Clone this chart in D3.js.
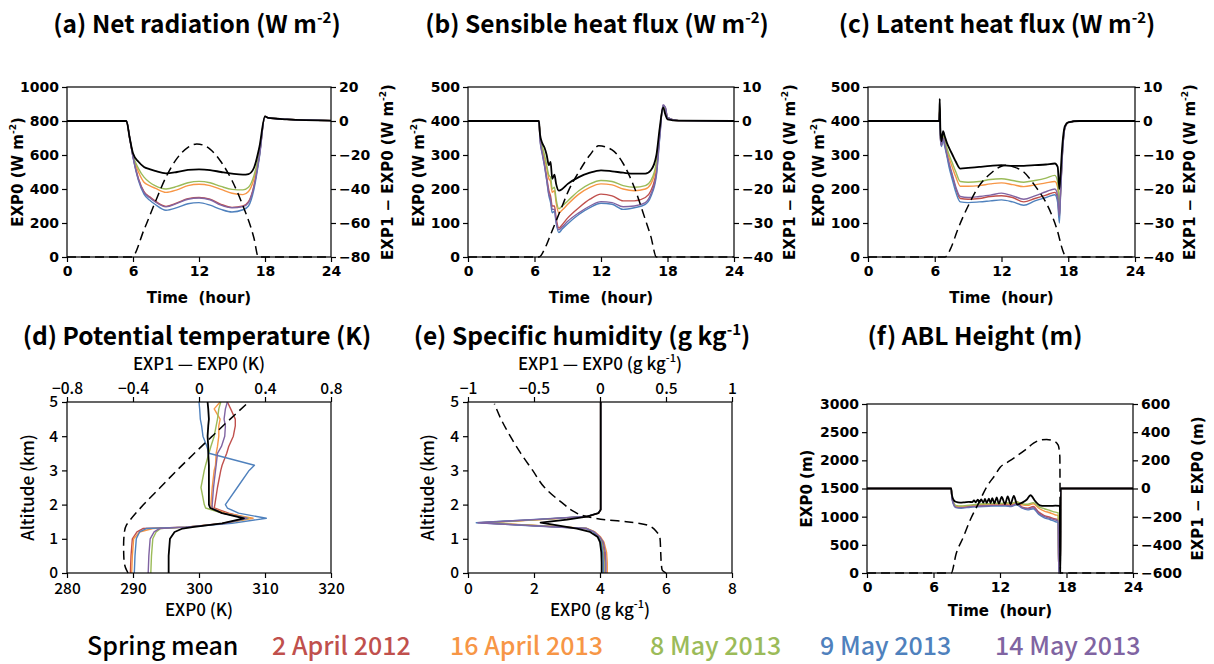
<!DOCTYPE html>
<html>
<head>
<meta charset="utf-8">
<script src="https://cdn.jsdelivr.net/npm/d3@7"></script>
<style>
  body { margin: 0; background: #fff; }
</style>
</head>
<body>
<svg id="chart" width="1214" height="664"></svg>
<script>
// ---------- data ----------
var seriesNames = ['Spring mean', '2 April 2012', '16 April 2013', '8 May 2013', '9 May 2013', '14 May 2013'];
var seriesColors = ['#000000', '#c0504d', '#f79646', '#9bbb59', '#4f81bd', '#8064a2'];

// (a) net radiation
var hoursA = [0, 5.4, 5.7, 6, 6.5, 7, 7.5, 8, 9, 10, 11, 12, 13, 14, 15, 16, 16.5, 17, 17.5, 18, 18.3, 20, 24];
var netSpring  = [800, 800, 700, 610, 560, 530, 517, 507, 492, 500, 512, 515, 511, 500, 490, 484, 488, 525, 650, 827, 818, 810, 802];
var netApr2012 = [800, 800, 700, 590, 460, 385, 355, 330, 298, 318, 343, 350, 340, 310, 292, 300, 325, 420, 600, 827, 818, 810, 802];
var netApr2013 = [800, 800, 700, 595, 500, 440, 420, 405, 380, 395, 420, 428, 420, 398, 375, 367, 385, 460, 610, 827, 818, 810, 802];
var netMay8    = [800, 800, 700, 600, 520, 470, 440, 420, 400, 415, 437, 445, 437, 415, 398, 395, 410, 480, 620, 827, 818, 810, 802];
var netMay9    = [800, 800, 700, 588, 450, 370, 335, 310, 275, 290, 313, 320, 305, 280, 265, 278, 300, 400, 590, 827, 818, 810, 802];
var netMay14   = [800, 800, 700, 590, 455, 380, 350, 325, 295, 315, 340, 347, 337, 305, 290, 297, 320, 415, 600, 827, 818, 810, 802];
var hoursAd = [0, 5.9, 7, 8, 9, 10, 11, 11.8, 12.5, 13, 14, 15, 16, 17, 17.4, 24];
var netDiff = [-80, -80, -64, -48, -33, -22, -15.5, -13.5, -14.5, -16.5, -24, -35, -50, -69, -80, -80];

// (b) sensible heat flux
var hoursB = [0, 6.4, 6.5, 6.7, 6.9, 7.1, 7.3, 7.45, 7.6, 7.8, 7.95, 8.2, 8.5, 9, 10, 11, 12, 13, 14, 15, 16, 16.5, 17, 17.3, 17.6, 17.8, 18, 19, 24];
var shSpring  = [400, 400, 360, 335, 322, 300, 270, 280, 230, 242, 215, 195, 200, 215, 235, 248, 255, 252, 248, 245, 245, 255, 300, 380, 440, 420, 405, 401, 400];
var shApr2012 = [400, 400, 348, 310, 275, 235, 195, 180, 150, 150, 115, 85, 95, 115, 145, 170, 185, 180, 165, 165, 175, 195, 255, 360, 445, 440, 410, 401, 400];
var shApr2013 = [400, 400, 352, 320, 292, 262, 230, 222, 190, 195, 160, 130, 138, 155, 185, 205, 215, 212, 200, 195, 200, 215, 270, 365, 440, 435, 410, 401, 400];
var shMay8    = [400, 400, 355, 325, 300, 270, 240, 235, 200, 205, 170, 142, 150, 165, 195, 215, 225, 222, 210, 205, 210, 225, 280, 370, 440, 435, 410, 401, 400];
var shMay9    = [400, 400, 345, 303, 268, 225, 180, 160, 130, 135, 100, 72, 82, 98, 125, 145, 158, 155, 140, 145, 155, 178, 240, 350, 445, 440, 410, 401, 400];
var shMay14   = [400, 400, 346, 305, 270, 228, 185, 170, 140, 140, 105, 80, 88, 105, 130, 150, 163, 160, 148, 150, 160, 185, 245, 355, 448, 440, 410, 401, 400];
var hoursBd = [0, 6.4, 7, 7.5, 8, 8.5, 9, 10, 11, 11.8, 13, 14, 15, 16, 16.5, 17, 24];
var shDiff = [-40, -40, -37, -33, -29, -25, -21, -15, -10, -7.3, -8.5, -12.5, -19.5, -29, -34, -40, -40];

// (c) latent heat flux
var hoursC = [0, 6.4, 6.45, 6.5, 6.6, 6.75, 6.9, 7.1, 7.3, 7.6, 7.9, 8.3, 9, 10, 11, 12, 13, 14, 15, 16, 16.8, 17.05, 17.2, 17.3, 17.45, 17.7, 18, 19, 24];
var lhSpring  = [400, 400, 465, 380, 340, 370, 355, 335, 320, 300, 280, 260, 262, 265, 268, 270, 268, 268, 270, 272, 275, 265, 200, 240, 320, 385, 396, 400, 400];
var lhApr2012 = [400, 400, 435, 355, 328, 350, 330, 300, 270, 235, 200, 172, 170, 172, 178, 180, 175, 162, 172, 182, 190, 170, 115, 180, 290, 380, 396, 400, 400];
var lhApr2013 = [400, 400, 440, 358, 330, 355, 338, 312, 290, 262, 235, 208, 208, 210, 215, 218, 213, 207, 212, 218, 222, 205, 140, 190, 295, 380, 396, 400, 400];
var lhMay8    = [400, 400, 440, 360, 335, 360, 345, 320, 300, 275, 250, 222, 220, 222, 228, 230, 225, 220, 225, 232, 240, 220, 150, 200, 300, 380, 396, 400, 400];
var lhMay9    = [400, 400, 430, 352, 325, 345, 325, 295, 262, 225, 190, 162, 160, 162, 165, 168, 162, 152, 165, 175, 183, 160, 100, 175, 285, 380, 396, 400, 400];
var lhMay14   = [400, 400, 435, 355, 328, 350, 332, 302, 275, 240, 205, 178, 175, 178, 182, 188, 180, 170, 180, 192, 200, 180, 120, 185, 290, 380, 396, 400, 400];
var hoursCd = [0, 6.9, 7.5, 8, 9, 10, 11, 12, 12.6, 13, 14, 15, 16, 16.5, 17, 17.5, 17.8, 24];
var lhDiff = [-40, -40, -37, -32.5, -25, -19, -15.5, -13.3, -13, -13.4, -15, -19, -24, -27.5, -32, -38, -40, -40];

// (d) potential temperature profiles
var altD = [0, 0.5, 1.0, 1.2, 1.3, 1.34, 1.45, 1.6, 1.75, 1.9, 2.0, 2.5, 3.0, 3.15, 3.5, 3.7, 4.0, 4.3, 4.5, 4.8, 5.0];
var thSpring  = [295.4, 295.4, 295.6, 296.3, 297.5, 299.0, 303.5, 306.8, 303.5, 301.7, 301.5, 301.5, 301.5, 301.5, 301.4, 301.4, 301.3, 301.4, 301.5, 301.4, 301.3];
var thApr2012 = [289.6, 289.7, 289.9, 290.6, 291.5, 298, 303.5, 307.5, 304.5, 302.3, 302.4, 302.8, 303.3, 303.5, 304.2, 304.5, 305.2, 305.5, 305.5, 304.8, 304.3];
var thApr2013 = [289.8, 289.9, 290.1, 291.0, 293.0, 298, 304, 308.2, 304, 302, 301.8, 302, 302.3, 302.5, 302.6, 302.8, 303, 303, 303.2, 302.3, 303.2];
var thMay8    = [292.7, 292.8, 293.0, 293.5, 294.2, 298, 304, 307.5, 303.5, 301, 300.8, 300.3, 300.8, 301.0, 301.5, 301.8, 302.3, 302.6, 302.8, 303.0, 303.3];
var thMay9    = [290.2, 290.3, 290.5, 291.0, 292.0, 298, 305, 310.2, 306, 304.3, 304.0, 305.8, 307.6, 308.4, 301.5, 301.2, 300.6, 300.4, 300.2, 300.1, 300.0];
var thMay14   = [292.3, 292.4, 292.6, 293.2, 294.0, 298, 304, 307.3, 303.5, 302, 302, 302.2, 302.5, 302.6, 302.8, 303.4, 303.9, 304.0, 303.8, 304.0, 304.3];
var altDd = [0, 0.15, 0.4, 0.8, 1.2, 1.4, 1.5, 2.0, 2.5, 3.0, 3.5, 4.0, 4.5, 4.95];
var thDiff = [-0.43, -0.445, -0.455, -0.457, -0.452, -0.44, -0.425, -0.336, -0.235, -0.134, -0.028, 0.08, 0.189, 0.29];

// (e) specific humidity profiles
var altE = [0, 0.3, 0.6, 0.9, 1.05, 1.2, 1.3, 1.38, 1.47, 1.56, 1.65, 1.75, 1.85, 2.0, 3.0, 4.0, 5.0];
var qSpring  = [4.05, 4.05, 4.04, 4.0, 3.93, 3.7, 3.3, 2.8, 2.2, 3.0, 3.6, 3.95, 4.02, 4.02, 4.02, 4.02, 4.02];
var qApr2012 = [4.15, 4.15, 4.13, 4.07, 3.98, 3.82, 3.6, 2.1, 0.4, 2.1, 3.6, 3.95, 4.02, 4.02, 4.02, 4.02, 4.02];
var qApr2013 = [4.22, 4.22, 4.2, 4.12, 4.02, 3.85, 3.62, 2.2, 0.5, 2.2, 3.62, 3.96, 4.02, 4.02, 4.02, 4.02, 4.02];
var qMay8    = [4.12, 4.12, 4.1, 4.05, 3.97, 3.82, 3.6, 2.15, 0.45, 2.15, 3.6, 3.95, 4.02, 4.02, 4.02, 4.02, 4.02];
var qMay9    = [4.1, 4.1, 4.08, 4.03, 3.95, 3.8, 3.58, 1.9, 0.25, 1.9, 3.58, 3.95, 4.02, 4.02, 4.02, 4.02, 4.02];
var qMay14   = [4.18, 4.18, 4.16, 4.1, 4.0, 3.83, 3.6, 2.0, 0.3, 2.0, 3.6, 3.95, 4.02, 4.02, 4.02, 4.02, 4.02];
var altEd = [0, 0.1, 0.25, 0.6, 1.0, 1.2, 1.4, 1.5, 1.55, 1.65, 1.8, 2.0, 2.5, 3.0, 3.5, 4.0, 4.5, 4.95];
var qDiff = [0.5, 0.47, 0.465, 0.46, 0.455, 0.43, 0.36, 0.2, 0.06, -0.1, -0.2, -0.27, -0.42, -0.51, -0.6, -0.68, -0.75, -0.8];

// (f) ABL height
var hoursF = [0, 7.6, 7.65, 7.8, 8, 8.5, 9, 9.5, 10, 10.5, 11, 11.5, 12, 12.5, 13, 13.5, 14, 14.5, 15, 15.5, 16, 16.5, 17, 17.25, 17.3, 17.45, 17.46, 24];
var ablApr2012 = [1500, 1500, 1360, 1240, 1180, 1170, 1180, 1190, 1195, 1200, 1205, 1210, 1210, 1215, 1200, 1270, 1170, 1150, 1180, 1080, 1020, 990, 960, 950, 0, 0, 1500, 1500];
var ablApr2013 = [1500, 1500, 1370, 1250, 1190, 1180, 1190, 1200, 1210, 1215, 1220, 1225, 1225, 1230, 1225, 1245, 1210, 1200, 1230, 1150, 1100, 1070, 1030, 1020, 0, 0, 1500, 1500];
var ablMay8    = [1500, 1500, 1380, 1260, 1200, 1190, 1200, 1210, 1220, 1230, 1230, 1240, 1235, 1245, 1240, 1260, 1230, 1220, 1250, 1180, 1140, 1110, 1080, 1070, 0, 0, 1500, 1500];
var ablMay9    = [1500, 1500, 1350, 1220, 1160, 1150, 1160, 1170, 1175, 1180, 1185, 1190, 1190, 1190, 1180, 1210, 1150, 1120, 1140, 1040, 980, 950, 910, 900, 0, 0, 1500, 1500];
var ablMay14   = [1500, 1500, 1355, 1230, 1170, 1160, 1170, 1180, 1185, 1190, 1195, 1200, 1200, 1200, 1190, 1230, 1160, 1140, 1160, 1060, 1000, 970, 940, 930, 0, 0, 1500, 1500];
var hoursFs = [0, 7.6, 7.65, 7.8, 8.0, 8.4, 8.8, 9.2, 9.5, 9.65, 9.8, 10.0, 10.15, 10.3, 10.5, 10.65, 10.8, 11.0, 11.15, 11.3, 11.5, 11.7, 11.9, 12.15, 12.45, 12.7, 12.95, 13.25, 13.55, 14.0, 14.4, 14.75, 15.2, 15.6, 16.0, 16.5, 17.0, 17.4, 17.42, 17.46, 17.48, 24];
var ablSpring = [1500, 1500, 1400, 1300, 1265, 1250, 1255, 1262, 1258, 1290, 1255, 1300, 1250, 1305, 1250, 1315, 1245, 1320, 1240, 1330, 1235, 1340, 1230, 1350, 1225, 1360, 1220, 1370, 1215, 1250, 1300, 1380, 1270, 1200, 1190, 1190, 1195, 1190, 0, 0, 1500, 1500];
var hoursFd = [0, 7.6, 8.05, 8.7, 9.3, 10.05, 10.8, 11.55, 12, 12.75, 13.5, 14.25, 15, 15.6, 16.2, 16.8, 17.25, 17.4, 17.45, 24];
var ablDiff = [-600, -600, -462, -344, -225, -107, 12, 95, 149, 190, 230, 272, 320, 344, 348, 339, 308, 225, -600, -600];

var hourTicks = [0, 6, 12, 18, 24];
var altTicks = [0, 1, 2, 3, 4, 5];

// ---------- drawing ----------
var NCL = '"DejaVu Sans", sans-serif';
var JP = '"Noto Sans CJK JP", "Noto Sans", sans-serif';
var svg = d3.select('#chart');
var defs = svg.append('defs');

function fmt(v) {
    return (v < 0 ? '\u2212' : '') + Math.abs(v);
}

// text with optional superscript parts: parts = [[str, isSup], ...]
function addText(g, x, y, parts, o) {
    var t = g.append('text')
        .attr('transform', 'translate(' + x + ',' + y + ')' + (o.rotate ? ' rotate(-90)' : ''))
        .attr('text-anchor', o.anchor || 'middle')
        .attr('font-family', o.font)
        .attr('font-size', o.size)
        .attr('font-weight', o.weight || 'normal')
        .attr('fill', o.color || '#000')
        .style('white-space', 'pre');
    if (o.rotate) t.attr('dominant-baseline', 'central');
    parts.forEach(function (p) {
        var ts = t.append('tspan').text(p[0]);
        if (p[1]) ts.attr('baseline-shift', 'super').attr('font-size', Math.round(o.size * 0.62));
    });
    return t;
}

function styleAxis(sel, font, size, weight) {
    sel.select('.domain').remove();
    sel.selectAll('.tick line').attr('stroke', '#000').attr('stroke-width', 1.2);
    sel.selectAll('.tick text')
        .attr('font-family', font).attr('font-size', size)
        .attr('font-weight', weight).attr('fill', '#000');
}

function addClip(id, x0, y0, x1, y1) {
    defs.append('clipPath').attr('id', id).append('rect')
        .attr('x', x0 - 1).attr('y', y0 - 1)
        .attr('width', x1 - x0 + 2).attr('height', y1 - y0 + 2);
}

function timePanel(p) {
    var g = svg.append('g');
    var x = d3.scaleLinear().domain([0, 24]).range([p.x0, p.x1]);
    var y = d3.scaleLinear().domain(p.yDom).range([p.y1, p.y0]);
    var y2 = d3.scaleLinear().domain(p.y2Dom).range([p.y1, p.y0]);
    addClip(p.id, p.x0, p.y0, p.x1, p.y1);
    var plot = g.append('g').attr('clip-path', 'url(#' + p.id + ')');

    // colored series first, spring mean (index 0) on top
    var order = [1, 2, 3, 4, 5, 0];
    order.forEach(function (i) {
        var s = p.series[i];
        plot.append('path')
            .datum(d3.zip(s.t, s.v))
            .attr('d', d3.line().x(function (d) { return x(d[0]); })
                .y(function (d) { return y(d[1]); }).curve(d3.curveMonotoneX))
            .attr('fill', 'none')
            .attr('stroke', seriesColors[i])
            .attr('stroke-width', i === 0 ? 1.8 : 1.4);
    });

    plot.append('path')
        .datum(d3.zip(p.diff.t, p.diff.v))
        .attr('d', d3.line().x(function (d) { return x(d[0]); })
            .y(function (d) { return y2(d[1]); }).curve(d3.curveMonotoneX))
        .attr('fill', 'none').attr('stroke', '#000')
        .attr('stroke-width', 1.5).attr('stroke-dasharray', '9,5');

    g.append('rect')
        .attr('x', p.x0).attr('y', p.y0)
        .attr('width', p.x1 - p.x0).attr('height', p.y1 - p.y0)
        .attr('fill', 'none').attr('stroke', '#000').attr('stroke-width', 1.2);

    g.append('g').attr('transform', 'translate(0,' + p.y1 + ')')
        .call(d3.axisBottom(x).tickValues(hourTicks).tickSize(5).tickPadding(4).tickFormat(fmt))
        .call(styleAxis, NCL, 14, 'bold');
    g.append('g').attr('transform', 'translate(' + p.x0 + ',0)')
        .call(d3.axisLeft(y).tickValues(p.yTicks).tickSize(5).tickPadding(3).tickFormat(fmt))
        .call(styleAxis, NCL, 14, 'bold');
    g.append('g').attr('transform', 'translate(' + p.x1 + ',0)')
        .call(d3.axisRight(y2).tickValues(p.y2Ticks).tickSize(5).tickPadding(3).tickFormat(fmt))
        .call(styleAxis, NCL, 14, 'bold');

    var o = { font: NCL, size: 15, weight: 'bold' };
    addText(g, (p.x0 + p.x1) / 2, p.timeY, [['Time  (hour)']], o);
    var ym = (p.y0 + p.y1) / 2;
    addText(g, p.leftX, ym, p.leftLabel, Object.assign({ rotate: true }, o));
    addText(g, p.rightX, ym, p.rightLabel, Object.assign({ rotate: true }, o));
}

function profilePanel(p) {
    var g = svg.append('g');
    var x = d3.scaleLinear().domain(p.xDom).range([p.x0, p.x1]);
    var x2 = d3.scaleLinear().domain(p.x2Dom).range([p.x0, p.x1]);
    var y = d3.scaleLinear().domain([0, 5]).range([p.y1, p.y0]);
    addClip(p.id, p.x0, p.y0, p.x1, p.y1);
    var plot = g.append('g').attr('clip-path', 'url(#' + p.id + ')');

    var order = [1, 2, 3, 4, 5, 0];
    order.forEach(function (i) {
        var s = p.series[i];
        plot.append('path')
            .datum(d3.zip(p.alt, s))
            .attr('d', d3.line().x(function (d) { return x(d[1]); })
                .y(function (d) { return y(d[0]); }))
            .attr('fill', 'none')
            .attr('stroke', seriesColors[i])
            .attr('stroke-width', i === 0 ? 1.8 : 1.4)
            .attr('stroke-linejoin', 'round');
    });

    plot.append('path')
        .datum(d3.zip(p.diff.alt, p.diff.v))
        .attr('d', d3.line().x(function (d) { return x2(d[1]); })
            .y(function (d) { return y(d[0]); }).curve(d3.curveMonotoneY))
        .attr('fill', 'none').attr('stroke', '#000')
        .attr('stroke-width', 1.5).attr('stroke-dasharray', '9,5');

    g.append('rect')
        .attr('x', p.x0).attr('y', p.y0)
        .attr('width', p.x1 - p.x0).attr('height', p.y1 - p.y0)
        .attr('fill', 'none').attr('stroke', '#000').attr('stroke-width', 1.2);

    g.append('g').attr('transform', 'translate(0,' + p.y1 + ')')
        .call(d3.axisBottom(x).tickValues(p.xTicks).tickSize(5).tickPadding(5).tickFormat(fmt))
        .call(styleAxis, JP, 15.5, 500);
    g.append('g').attr('transform', 'translate(0,' + p.y0 + ')')
        .call(d3.axisTop(x2).tickValues(p.x2Ticks).tickSize(5).tickPadding(3).tickFormat(fmt))
        .call(styleAxis, JP, 15.5, 500);
    g.append('g').attr('transform', 'translate(' + p.x0 + ',0)')
        .call(d3.axisLeft(y).tickValues(altTicks).tickSize(5).tickPadding(4).tickFormat(fmt))
        .call(styleAxis, JP, 15.5, 500);

    var o = { font: JP, size: 17, weight: 500 };
    var xm = (p.x0 + p.x1) / 2;
    addText(g, xm, p.y0 - 32, p.topLabel, o);
    addText(g, xm, p.y1 + 43, p.bottomLabel, o);
    addText(g, p.leftX, (p.y0 + p.y1) / 2, [['Altitude (km)']], Object.assign({ rotate: true }, o));
}

function pack(t, arrs) {
    return arrs.map(function (v) { return { t: t, v: v }; });
}

timePanel({
    id: 'clipA', x0: 67, x1: 331, y0: 87, y1: 257,
    yDom: [0, 1000], y2Dom: [-80, 20],
    yTicks: [0, 200, 400, 600, 800, 1000], y2Ticks: [-80, -60, -40, -20, 0, 20],
    series: pack(hoursA, [netSpring, netApr2012, netApr2013, netMay8, netMay9, netMay14]),
    diff: { t: hoursAd, v: netDiff },
    timeY: 303, leftX: 18, rightX: 388,
    leftLabel: [['EXP0 (W m'], ['-2', true], [')']],
    rightLabel: [['EXP1 \u2212 EXP0 (W m'], ['-2', true], [')']]
});

timePanel({
    id: 'clipB', x0: 468, x1: 734, y0: 87, y1: 257,
    yDom: [0, 500], y2Dom: [-40, 10],
    yTicks: [0, 100, 200, 300, 400, 500], y2Ticks: [-40, -30, -20, -10, 0, 10],
    series: pack(hoursB, [shSpring, shApr2012, shApr2013, shMay8, shMay9, shMay14]),
    diff: { t: hoursBd, v: shDiff },
    timeY: 303, leftX: 419, rightX: 790,
    leftLabel: [['EXP0 (W m'], ['-2', true], [')']],
    rightLabel: [['EXP1 \u2212 EXP0 (W m'], ['-2', true], [')']]
});

timePanel({
    id: 'clipC', x0: 868, x1: 1135, y0: 87, y1: 257,
    yDom: [0, 500], y2Dom: [-40, 10],
    yTicks: [0, 100, 200, 300, 400, 500], y2Ticks: [-40, -30, -20, -10, 0, 10],
    series: pack(hoursC, [lhSpring, lhApr2012, lhApr2013, lhMay8, lhMay9, lhMay14]),
    diff: { t: hoursCd, v: lhDiff },
    timeY: 303, leftX: 819, rightX: 1190,
    leftLabel: [['EXP0 (W m'], ['-2', true], [')']],
    rightLabel: [['EXP1 \u2212 EXP0 (W m'], ['-2', true], [')']]
});

var ablSeries = [
    { t: hoursFs, v: ablSpring },
    { t: hoursF, v: ablApr2012 },
    { t: hoursF, v: ablApr2013 },
    { t: hoursF, v: ablMay8 },
    { t: hoursF, v: ablMay9 },
    { t: hoursF, v: ablMay14 }
];
timePanel({
    id: 'clipF', x0: 867, x1: 1133, y0: 404, y1: 573,
    yDom: [0, 3000], y2Dom: [-600, 600],
    yTicks: [0, 500, 1000, 1500, 2000, 2500, 3000], y2Ticks: [-600, -400, -200, 0, 200, 400, 600],
    series: ablSeries,
    diff: { t: hoursFd, v: ablDiff },
    timeY: 616, leftX: 807, rightX: 1198,
    leftLabel: [['EXP0 (m)']],
    rightLabel: [['EXP1 \u2212 EXP0 (m)']]
});

profilePanel({
    id: 'clipD', x0: 67, x1: 331, y0: 402, y1: 573,
    xDom: [280, 320], x2Dom: [-0.8, 0.8],
    xTicks: [280, 290, 300, 310, 320], x2Ticks: [-0.8, -0.4, 0, 0.4, 0.8],
    alt: altD,
    series: [thSpring, thApr2012, thApr2013, thMay8, thMay9, thMay14],
    diff: { alt: altDd, v: thDiff },
    leftX: 26,
    topLabel: [['EXP1 \u2014 EXP0 (K)']],
    bottomLabel: [['EXP0 (K)']]
});

profilePanel({
    id: 'clipE', x0: 468, x1: 732, y0: 402, y1: 573,
    xDom: [0, 8], x2Dom: [-1, 1],
    xTicks: [0, 2, 4, 6, 8], x2Ticks: [-1, -0.5, 0, 0.5, 1],
    alt: altE,
    series: [qSpring, qApr2012, qApr2013, qMay8, qMay9, qMay14],
    diff: { alt: altEd, v: qDiff },
    leftX: 426,
    topLabel: [['EXP1 \u2014 EXP0 (g kg'], ['-1', true], [')']],
    bottomLabel: [['EXP0 (g kg'], ['-1', true], [')']]
});

// panel titles
var titleStyle = { font: JP, size: 24.5, weight: 'bold' };
addText(svg, 197, 33, [['(a) Net radiation (W m'], ['-2', true], [')']], titleStyle);
addText(svg, 597, 33, [['(b) Sensible heat flux (W m'], ['-2', true], [')']], titleStyle);
addText(svg, 997, 33, [['(c) Latent heat flux (W m'], ['-2', true], [')']], titleStyle);
addText(svg, 197, 345, [['(d) Potential temperature (K)']], titleStyle);
addText(svg, 582, 345, [['(e) Specific humidity (g kg'], ['-1', true], [')']], titleStyle);
addText(svg, 975, 345, [['(f) ABL Height (m)']], titleStyle);

// legend
var legendX = [87, 272, 450, 650, 820, 995];
seriesNames.forEach(function (name, i) {
    addText(svg, legendX[i], 655, [[name]],
        { font: JP, size: 25, weight: 500, anchor: 'start', color: seriesColors[i] });
});
</script>
</body>
</html>
